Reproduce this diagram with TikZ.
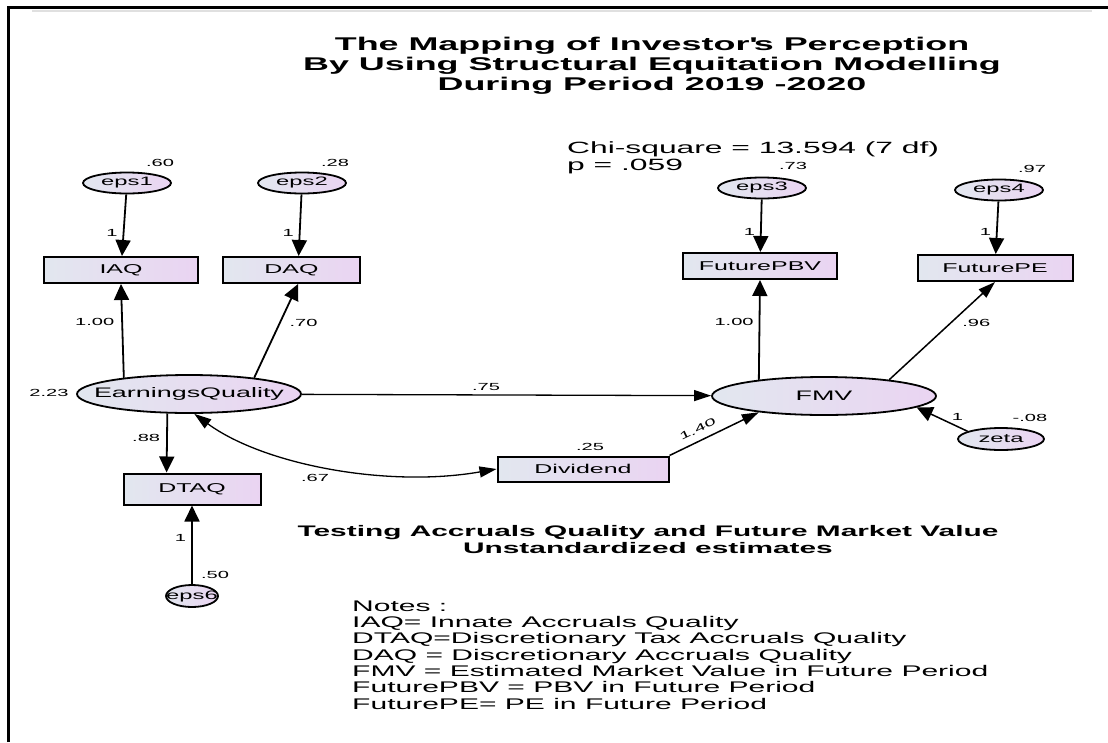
\documentclass[tikz,border=0pt]{standalone}
\usepackage{fontspec}
\setmainfont[FakeStretch=1.95]{Liberation Sans}
\usetikzlibrary{shapes.geometric,arrows.meta}
\definecolor{fillleft}{RGB}{226,231,239}
\definecolor{fillright}{RGB}{234,212,242}
\newcommand{\clab}[1]{\makebox[0pt]{#1}}

\begin{document}
\begin{tikzpicture}[x=1pt,y=-1pt,
    obs/.style={draw, rectangle, line width=2pt, left color=fillleft, right color=fillright, inner sep=0pt, minimum height=26pt, font=\fontsize{12.8}{14}\selectfont},
    lat/.style={draw, ellipse, line width=1.8pt, left color=fillleft, right color=fillright, inner sep=0pt, minimum width=224pt, minimum height=38pt, font=\fontsize{13.8}{15}\selectfont},
    err/.style={draw, ellipse, line width=1.8pt, left color=fillleft, right color=fillright, inner sep=0pt, minimum width=88pt, minimum height=21pt, font=\fontsize{12.2}{14}\selectfont},
    est/.style={inner sep=1pt, font=\fontsize{10.3}{12}\selectfont},
    reg/.style={draw, line width=1.8pt, -{Triangle[length=16pt,width=15pt]}},
    thinreg/.style={draw, line width=1.3pt, -{Triangle[length=17pt,width=11pt]}},
    cov/.style={draw, line width=1.3pt, {Triangle[length=17pt,width=11pt]}-{Triangle[length=17pt,width=11pt]}}]
    \useasboundingbox (0,0) rectangle (1108,742);
    % frame
    \draw[line width=3pt] (8,742) -- (8,7) -- (1108,7);
    \draw[black!12, line width=2pt] (32,10.5) -- (1092,10.5);

    \node[align=center, font=\bfseries\fontsize{18.4}{20}\selectfont] (title) at (652,66)
        {The Mapping of Investor\textquotesingle s Perception\\By Using Structural Equitation Modelling\\During Period 2019 -2020};
    \node[anchor=west, align=left, inner sep=0pt, font=\fontsize{16.3}{17}\selectfont] (fit) at (567,158)
        {Chi-square = 13.594 (7 df)\\p = .059};

    % error terms
    \node[err] (eps1) at (127,183) {\clab{eps1}};
    \node[err] (eps2) at (302,183) {\clab{eps2}};
    \node[err] (eps3) at (762,188) {\clab{eps3}};
    \node[err] (eps4) at (999,190) {\clab{eps4}};
    \node[err, minimum width=86pt, minimum height=22pt] (zeta) at (1001,439) {\clab{zeta}};
    \node[err, minimum width=52pt, minimum height=22pt] (eps6) at (192,596) {\clab{eps6}};

    % observed
    \node[obs, minimum width=154pt] (IAQ) at (121,270) {IAQ};
    \node[obs, minimum width=137pt] (DAQ) at (291.5,270) {DAQ};
    \node[obs, minimum width=154pt] (PBV) at (760,266) {FuturePBV};
    \node[obs, minimum width=155pt] (PE) at (995,268) {FuturePE};
    \node[obs, minimum width=137pt, minimum height=31pt] (DTAQ) at (192,489) {DTAQ};
    \node[obs, minimum width=171pt, minimum height=25pt] (Div) at (583,469) {Dividend};

    % latent
    \node[lat] (EQ) at (189,394) {\clab{EarningsQuality}};
    \node[lat] (FMV) at (824,396) {\clab{FMV}};

    % variances
    \node[est] (v1) at (160,163) {.60};
    \node[est] (v2) at (335,163) {.28};
    \node[est] (v3) at (793,166) {.73};
    \node[est] (v4) at (1032,169) {.97};
    \node[est] (v6) at (215,575) {.50};
    \node[est] (vz) at (1030,418) {-.08};
    \node[est] (vEQ) at (49,393) {2.23};
    \node[est] (vDiv) at (590,447) {.25};

    \draw[reg] (eps1) -- node[est, pos=0.63, left=4pt] (w1) {1} (IAQ);
    \draw[reg] (eps2) -- node[est, pos=0.63, left=4pt] (w2) {1} (DAQ.63);
    \draw[reg] (eps3) -- node[est, pos=0.61, left=4pt] (w3) {1} (PBV);
    \draw[reg] (eps4) -- node[est, pos=0.58, left=4pt] (w4) {1} (PE);
    \draw[reg] (eps6) -- node[est, pos=0.59, left=4pt] (w6) {1} (DTAQ);
    \draw[reg] (EQ.166) -- node[est, pos=0.59, left=6pt] (b1) {1.00} (IAQ.south);
    \draw[reg] (EQ.14) -- node[est, pos=0.58, right=8pt] (b2) {.70} (DAQ.-65);
    \draw[reg] (EQ.-138) -- node[est, pos=0.41, left=5pt] (b3) {.88} (DTAQ.147);
    \draw[thinreg] (EQ) -- node[est, pos=0.45, above=3pt] (b4) {.75} (FMV);
    \draw[reg] (FMV.166) -- node[est, pos=0.58, left=4pt] (b5) {1.00} (PBV.south);
    \draw[thinreg, line width=1.5pt] (FMV.14) -- node[est, pos=0.58, right=10pt] (b6) {.96} (PE.south);
    \draw[reg, line width=1.5pt] (zeta.167) -- node[est, pos=0.2, above=4pt] (wz) {1} (FMV.-7);
    \draw[thinreg, line width=1.5pt] (Div.north east) -- node[est, pos=0.37, sloped, above=6pt] (b7) {1.40} (FMV.194);
    \draw[cov] (EQ.-75) .. controls (264,465) and (388,488) .. node[est, pos=0.45, below=8pt] (c1) {.67} (Div.west);

    \node[align=center, font=\bfseries\fontsize{15.3}{17}\selectfont] (sub) at (648,540)
        {Testing Accruals Quality and Future Market Value\\Unstandardized estimates};
    \node[anchor=west, align=left, inner sep=0pt, font=\fontsize{15.4}{16.3}\selectfont] (notes) at (352,655)
        {Notes :\\IAQ= Innate Accruals Quality\\DTAQ=Discretionary Tax Accruals Quality\\DAQ = Discretionary Accruals Quality\\FMV = Estimated Market Value in Future Period\\FuturePBV = PBV in Future Period\\FuturePE= PE in Future Period};
\end{tikzpicture}
\end{document}
